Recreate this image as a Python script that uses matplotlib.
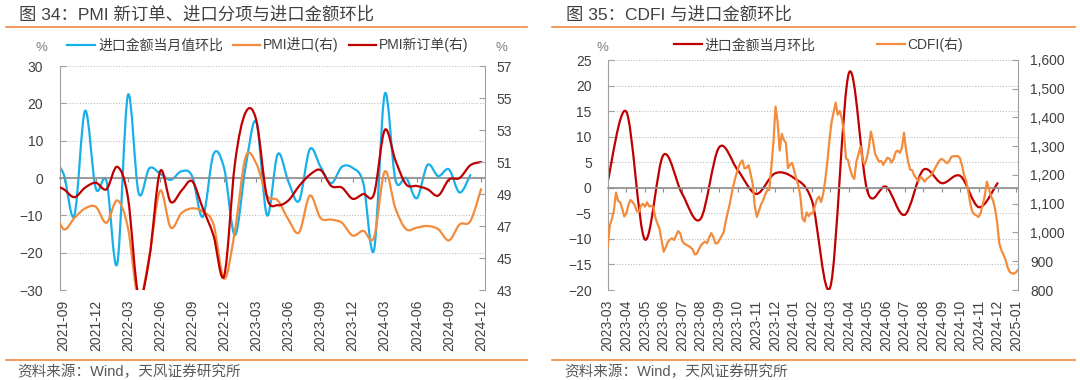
import numpy as np
import matplotlib as mpl
mpl.use('Agg')
import matplotlib.pyplot as plt
from matplotlib.path import Path
from matplotlib.patches import PathPatch
from matplotlib.lines import Line2D
from matplotlib.ticker import FuncFormatter

plt.rcParams['font.family'] = ['Liberation Sans', 'Noto Sans CJK SC', 'DejaVu Sans']

# ---- data: left chart, monthly from 2021-08 ----
import_mom = [5, 1, -10, 18, -2.8,
              -0.8, -23, 22.2, -4, 2.6, 1.2, -0.5, 1.8, 0.5, -10.4, 6.4, 2.5,
              -15.3, 3, 15, -10, 6.4, -1, -6.1, 7.7, 3, -1.4, 3, 2.7,
              -1.4, -19.3, 22.5, -0.5, 0, -5.4, 3.5, 0.5, 2.3, -3.9, 0.8]
pmi_import = [48.3, 46.8, 47.5, 48.1, 48.2,
              47.2, 48.6, 46.9, 42.4, 45.1, 49.2, 46.9, 47.8, 48.1, 47.9, 47.1, 43.7,
              46.7, 51.3, 50.9, 48.9, 48.6, 47.4, 46.6, 48.9, 47.5, 47.4, 47.2, 46.4,
              46.7, 46.3, 50.4, 48.1, 46.8, 46.9, 47.0, 46.8, 46.1, 47.1, 47.3, 49.3]
pmi_new_order = [49.6, 49.3, 48.8, 49.4, 49.7,
                 49.3, 50.7, 48.8, 42.6, 45.0, 50.4, 48.5, 49.2, 49.8, 48.1, 46.4, 43.9,
                 50.9, 54.1, 53.6, 48.8, 48.3, 48.6, 49.5, 50.2, 50.5, 49.5, 49.4, 48.7,
                 49.0, 49.0, 53.0, 51.1, 49.6, 49.5, 49.3, 48.9, 49.9, 50.0, 50.8, 51.0]
left_ticks = ['2021-09', '2021-12', '2022-03', '2022-06', '2022-09', '2022-12', '2023-03',
              '2023-06', '2023-09', '2023-12', '2024-03', '2024-06', '2024-09', '2024-12']

# ---- data: right chart ----
right_ticks = ['2023-03', '2023-04', '2023-05', '2023-06', '2023-07', '2023-08', '2023-09',
               '2023-10', '2023-11', '2023-12', '2024-01', '2024-02', '2024-03', '2024-04',
               '2024-05', '2024-06', '2024-07', '2024-08', '2024-09', '2024-10', '2024-11',
               '2024-12', '2025-01']
import_mom_r = [1.2, 14.9, -10.1, 6.4, -1.1, -6.1, 7.9, 3.5, -1.2, 2.8, 2.0,
                -2.5, -19.3, 22.5, -0.8, 0.2, -5.3, 3.5, 0.9, 2.3, -3.8, 0.9]
cdfi = [951, 1024, 1046, 1077, 1139, 1110, 1105, 1083, 1056, 1066,
        1097, 1113, 1106, 1096, 1075, 1071, 1093, 1100, 1090, 1105,
        1091, 1092, 1089, 1052, 1031, 1013, 974, 933, 948, 967,
        975, 980, 974, 989, 1005, 997, 970, 961, 957, 953,
        948, 941, 924, 926, 941, 955, 963, 968, 963, 983,
        998, 984, 962, 963, 974, 988, 1002, 1040, 1072, 1103,
        1141, 1173, 1201, 1223, 1242, 1251, 1223, 1225, 1234, 1203,
        1169, 1091, 1054, 1076, 1097, 1112, 1132, 1147, 1148, 1229,
        1315, 1438, 1385, 1285, 1343, 1322, 1312, 1224, 1235, 1242,
        1215, 1188, 1164, 1125, 1049, 1038, 1070, 1057, 1067, 1067,
        1092, 1115, 1125, 1106, 1134, 1183, 1245, 1319, 1382, 1417,
        1452, 1410, 1423, 1397, 1348, 1258, 1252, 1220, 1197, 1186,
        1245, 1271, 1300, 1253, 1236, 1257, 1293, 1351, 1322, 1275,
        1260, 1246, 1249, 1235, 1248, 1260, 1257, 1243, 1256, 1280,
        1285, 1277, 1294, 1347, 1287, 1246, 1219, 1216, 1198, 1188,
        1178, 1194, 1187, 1177, 1187, 1192, 1199, 1209, 1224, 1236,
        1249, 1256, 1253, 1245, 1241, 1251, 1264, 1265, 1266, 1266,
        1259, 1234, 1199, 1181, 1144, 1101, 1072, 1063, 1059, 1054,
        1067, 1098, 1128, 1177, 1152, 1127, 1111, 1081, 1034, 962,
        939, 923, 906, 879, 863, 858, 857, 861, 870]

BLUE = '#17B0EA'
ORANGE = '#F28C3C'
RED = '#C00000'
GRID = '#BFBFBF'
SPINE = '#A0A0A0'
TXT = '#404040'
LINE_ORANGE = '#F0883E'


def smooth_line(ax, x, y, color, lw=1.6):
    # excel-like smoothed line (catmull-rom as bezier)
    pts = np.column_stack([x, y]).astype(float)
    n = len(pts)
    verts = [pts[0]]
    codes = [Path.MOVETO]
    for i in range(n - 1):
        p0 = pts[max(i - 1, 0)]
        p1 = pts[i]
        p2 = pts[i + 1]
        p3 = pts[min(i + 2, n - 1)]
        verts += [p1 + (p2 - p0) / 6, p2 - (p3 - p1) / 6, p2]
        codes += [Path.CURVE4] * 3
    ax.add_patch(PathPatch(Path(verts, codes), fill=False, edgecolor=color,
                           lw=lw, joinstyle='round', capstyle='round'))


def style_axes(ax, ax2, zero_ticks, tick_labels, lpad, rpad):
    for s in ['top', 'right']:
        ax.spines[s].set_visible(False)
    ax.spines['left'].set_color(SPINE)
    ax.spines['bottom'].set_position(('data', 0))
    ax.spines['bottom'].set_color('#8C8C8C')
    ax.spines['bottom'].set_linewidth(1.2)
    ax.set_xticks(zero_ticks)
    ax.tick_params(axis='x', direction='out', length=3, color='#8C8C8C', labelbottom=False)
    ax.tick_params(axis='y', direction='in', length=4, color=SPINE, labelcolor=TXT,
                   labelsize=10, pad=lpad)
    ax.yaxis.grid(True, linestyle=(0, (1, 1.5)), color=GRID, lw=0.8)
    ax.set_axisbelow(True)
    for s in ['top', 'bottom', 'left']:
        ax2.spines[s].set_visible(False)
    ax2.spines['right'].set_color(SPINE)
    ax2.tick_params(axis='y', direction='in', length=4, color=SPINE, labelcolor=TXT,
                    labelsize=10, pad=rpad)
    sec = ax.secondary_xaxis('bottom')
    sec.set_xticks(zero_ticks[:len(tick_labels)], tick_labels, rotation=90)
    sec.spines['bottom'].set_visible(False)
    sec.tick_params(length=0, pad=7, labelsize=10, labelcolor=TXT)


fig = plt.figure(figsize=(10.8, 3.8), dpi=100)

# ---------------- left chart ----------------
axL = fig.add_axes([60 / 1080, 1 - 290 / 380, 425 / 1080, 224 / 380])
axL2 = axL.twinx()
m_blue = np.arange(len(import_mom))
m_pmi = np.arange(len(pmi_import))
smooth_line(axL, m_blue, import_mom, BLUE)
smooth_line(axL2, m_pmi, pmi_import, ORANGE)
smooth_line(axL2, m_pmi, pmi_new_order, RED)
axL.set_xlim(0.654, 40.37)
axL.set_ylim(-30, 30)
axL.set_yticks(range(-30, 31, 10))
axL2.set_ylim(43, 57)
axL2.set_yticks(range(43, 58, 2))
style_axes(axL, axL2, np.arange(1, 41, 3), left_ticks, 12.2, 8.4)

# ---------------- right chart ----------------
axR = fig.add_axes([607.7 / 1080, 1 - 290 / 380, 410.6 / 1080, 230 / 380])
axR2 = axR.twinx()
k_red = np.arange(len(import_mom_r))
smooth_line(axR, k_red, import_mom_r, RED)
axR2.plot(np.linspace(0.0, 22.1, len(cdfi)), cdfi, color=ORANGE, lw=1.6)
axR.set_xlim(0.02, 22.12)
axR.set_ylim(-20, 25)
axR.set_yticks(range(-20, 26, 5))
axR2.set_ylim(800, 1600)
axR2.set_yticks(range(800, 1601, 100))
axR2.yaxis.set_major_formatter(FuncFormatter(lambda v, _: f'{v:,.0f}'))
style_axes(axR, axR2, np.arange(len(right_ticks)), right_ticks, 11.5, 8.6)

# ---------------- legends ----------------
hL = [Line2D([], [], color=BLUE, lw=1.6), Line2D([], [], color=ORANGE, lw=1.6),
      Line2D([], [], color=RED, lw=1.6)]
fig.legend(hL, ['进口金额当月值环比', 'PMI进口(右)', 'PMI新订单(右)'], loc='center',
           bbox_to_anchor=(268 / 1080, 1 - 45 / 380), ncol=3, frameon=False, fontsize=10,
           handlelength=2.0, handletextpad=0.2, columnspacing=0.7, borderaxespad=0,
           labelcolor=TXT)
hR = [Line2D([], [], color=RED, lw=1.6), Line2D([], [], color=ORANGE, lw=1.6)]
fig.legend(hR, ['进口金额当月环比', 'CDFI(右)'], loc='center',
           bbox_to_anchor=(818.5 / 1080, 1 - 45 / 380), ncol=2, frameon=False, fontsize=10,
           handlelength=2.0, handletextpad=0.2, columnspacing=4.4, borderaxespad=0,
           labelcolor=TXT)

for px in [41, 501, 602]:
    fig.text(px / 1080, 1 - 48 / 380, '%', ha='center', va='center', fontsize=9.5, color='#7F7F7F')

# ---------------- titles / source ----------------
fig.text(19 / 1080, 1 - 14.5 / 380, '图 34：PMI 新订单、进口分项与进口金额环比',
         fontsize=12.5, color=TXT, va='center')
fig.text(566 / 1080, 1 - 14.5 / 380, '图 35：CDFI 与进口金额环比',
         fontsize=12.5, color=TXT, va='center')
for x0, x1 in [(6, 527), (552, 1075)]:
    for yy in [27, 360]:
        fig.add_artist(Line2D([x0 / 1080, x1 / 1080], [1 - yy / 380] * 2,
                              transform=fig.transFigure, color=LINE_ORANGE, lw=1.2))
fig.text(17 / 1080, 1 - 372 / 380, '资料来源：Wind，天风证券研究所', fontsize=10.5,
         color='#595959', va='center')
fig.text(564 / 1080, 1 - 372 / 380, '资料来源：Wind，天风证券研究所', fontsize=10.5,
         color='#595959', va='center')

fig.savefig('out.png', dpi=100)
